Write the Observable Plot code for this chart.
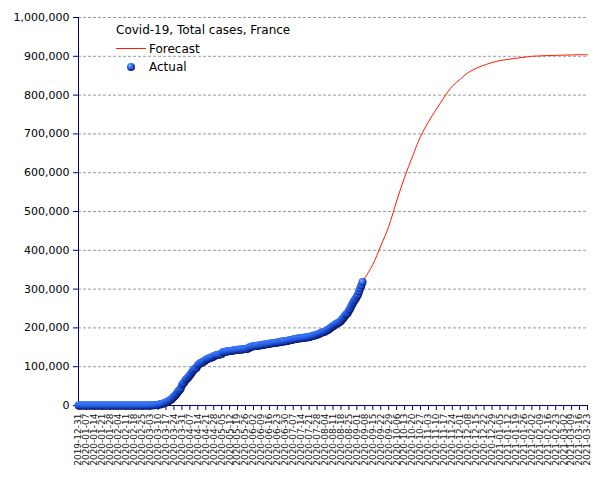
<!DOCTYPE html>
<html><head><meta charset="utf-8">
<script src="https://cdn.jsdelivr.net/npm/d3@7"></script>
<script src="https://cdn.jsdelivr.net/npm/@observablehq/plot@0.6"></script>
<style>body{margin:0;background:#fff} #chart{width:605px;height:480px}</style>
</head><body><div id="chart"></div>
<script>
const title = "Covid-19, Total cases, France";
const seriesNames = ["Forecast", "Actual"];
const actualStart = "2019-12-31";
const actualValues = [
  // 2019-12-31 .. 2020-01-24
  0,0,0,0,0,0,0,0,0,0,0,0,0,0,0,0,0,0,0,0,0,0,0,0,0,
  // Jan 25-31
  3,3,3,3,4,5,5,
  // Feb
  6,6,6,6,6,6,6,6, 11,11,11,11,11,11,11, 12,12,12,12,12,12,12,12,12,12, 18,38,57,100,
  // Mar
  130,191,212,285,423,613,949,1126,1412,1784,2281,2876,3661,4499,5423,6633,7730,9134,10995,12612,14459,16018,19856,22302,25233,29155,32964,37575,40174,44550,52128,
  // Apr
  56989,59105,64338,68605,70478,74390,78167,82048,86334,90276,93790,95403,98076,103573,106206,108847,109252,111821,112606,114657,117324,119151,120804,121712,122577,124114,124575,126835,128339,129581,
  // May
  130185,130979,131287,131863,132967,137150,137779,138421,138854,139063,139519,140227,140734,141356,141919,142291,142411,142903,143427,143845,144163,144556,144556,145279,145555,145746,146122,146500,149200,149668,151325,
  // Jun
  151753,152444,153055,153634,153977,154188,154591,155136,155561,156287,156813,157220,157716,158174,158641,159452,160093,160377,160750,161267,161348,161932,162220,162936,163280,164260,164801,164801,165200,165719,
  // Jul
  166378,166960,167605,168335,168810,169473,170094,170752,171253,171753,172377,172754,173304,173304,173838,174674,175027,175578,175578,176202,176754,177338,178336,179398,180528,180528,181400,182500,183804,185196,186500,
  // Aug
  187919,188700,189500,190800,192334,194000,196000,198000,200500,202775,204000,206500,209000,211000,212211,214000,215500,218000,221500,225043,229000,233000,236000,238500,244854,249000,255000,261000,267000,271000,275000,
  // Sep 1-6
  281025,286000,294000,302000,310000,318000
];
const forecastDates = ["2020-09-06","2020-09-08","2020-09-15","2020-09-22","2020-09-29","2020-10-06","2020-10-13","2020-10-20","2020-10-27","2020-11-03","2020-11-10","2020-11-17","2020-11-24","2020-12-01","2020-12-08","2020-12-15","2020-12-22","2020-12-29","2021-01-05","2021-01-12","2021-01-19","2021-01-26","2021-02-02","2021-02-09","2021-02-16","2021-02-23","2021-03-02","2021-03-09","2021-03-16","2021-03-23"];
const forecastValues = [318000,328000,363000,411000,461000,527000,588000,642000,693000,731000,764000,795000,823000,841000,858000,869000,877000,884000,889000,892000,895000,897500,900000,901000,902000,902500,903000,903500,904000,904000];
const xTickLabels = ["2019-12-31","2020-01-07","2020-01-14","2020-01-21","2020-01-28","2020-02-04","2020-02-11","2020-02-18","2020-02-25","2020-03-03","2020-03-10","2020-03-17","2020-03-24","2020-03-31","2020-04-07","2020-04-14","2020-04-21","2020-04-28","2020-05-05","2020-05-12","2020-05-19","2020-05-26","2020-06-02","2020-06-09","2020-06-16","2020-06-23","2020-06-30","2020-07-07","2020-07-14","2020-07-21","2020-07-28","2020-08-04","2020-08-11","2020-08-18","2020-08-25","2020-09-01","2020-09-08","2020-09-15","2020-09-22","2020-09-29","2020-10-06","2020-10-13","2020-10-20","2020-10-27","2020-11-03","2020-11-10","2020-11-17","2020-11-24","2020-12-01","2020-12-08","2020-12-15","2020-12-22","2020-12-29","2021-01-05","2021-01-12","2021-01-19","2021-01-26","2021-02-02","2021-02-09","2021-02-16","2021-02-23","2021-03-02","2021-03-09","2021-03-16","2021-03-23"];
const yTicks = [0,100000,200000,300000,400000,500000,600000,700000,800000,900000,1000000];

const parse = d3.utcParse("%Y-%m-%d");
const start = parse(actualStart);
const actual = actualValues.map((v, i) => ({date: d3.utcDay.offset(start, i), value: v}));
const forecast = forecastDates.map((d, i) => ({date: parse(d), value: forecastValues[i]}));
const xTicks = xTickLabels.map(parse);
const navy = "#000070";
const red = "#ff1a00";

const chart = Plot.plot({
  width: 605, height: 480,
  marginLeft: 78, marginRight: 18, marginTop: 17, marginBottom: 75,
  style: {fontFamily: "DejaVu Sans", background: "white", overflow: "visible"},
  x: {type: "utc", domain: [xTicks[0], xTicks[xTicks.length - 1]]},
  y: {domain: [0, 1000000]},
  marks: [
    Plot.gridY(yTicks, {stroke: "#999", strokeOpacity: 1, strokeDasharray: "3,2"}),
    Plot.axisY(yTicks, {tickFormat: d3.format(","), tickSize: 5, tickPadding: 4, stroke: navy, fill: "black", fontSize: 11, label: null}),
    Plot.axisX(xTicks, {tickFormat: d3.utcFormat("%Y-%m-%d"), tickRotate: -90, tickSize: 5, tickPadding: 3, stroke: navy, fill: "#111", fontSize: 9, label: null}),
    Plot.ruleX([xTicks[0]], {stroke: navy, strokeWidth: 1}),
    Plot.ruleY([0], {stroke: navy, strokeWidth: 1}),
    Plot.line(forecast, {x: "date", y: "value", stroke: red, strokeWidth: 1, curve: "catmull-rom"}),
    Plot.dot(actual, {x: "date", y: "value", r: 4, fill: "url(#ball)", stroke: "none"})
  ]
});

const svg = d3.select(chart);
const grad = svg.insert("defs", ":first-child").append("radialGradient")
  .attr("id", "ball").attr("cx", "0.4").attr("cy", "0.38").attr("r", "0.62")
  .attr("fx", "0.35").attr("fy", "0.3");
grad.append("stop").attr("offset", "0").attr("stop-color", "#9cc0ff");
grad.append("stop").attr("offset", "0.35").attr("stop-color", "#3c7cff");
grad.append("stop").attr("offset", "0.7").attr("stop-color", "#1d4fd8");
grad.append("stop").attr("offset", "1").attr("stop-color", "#061660");

const lg = svg.append("g").attr("font-family", "DejaVu Sans").attr("font-size", 12)
  .attr("fill", "black").attr("text-anchor", "start");
lg.append("text").attr("x", 116).attr("y", 34).text(title);
lg.append("line").attr("x1", 116).attr("x2", 146).attr("y1", 48.5).attr("y2", 48.5).attr("stroke", red).attr("stroke-width", 1);
lg.append("text").attr("x", 149).attr("y", 53).text(seriesNames[0]);
lg.append("circle").attr("cx", 131).attr("cy", 67).attr("r", 4).attr("fill", "url(#ball)");
lg.append("text").attr("x", 149).attr("y", 71).text(seriesNames[1]);

document.getElementById("chart").appendChild(chart);
</script>
</body></html>
